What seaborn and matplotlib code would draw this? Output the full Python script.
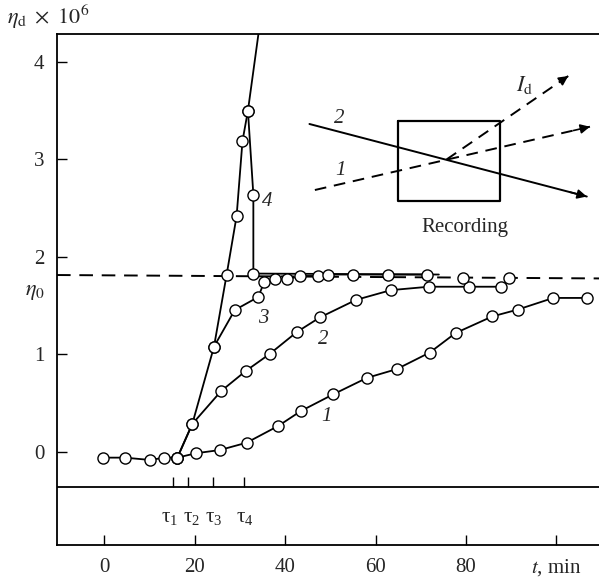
import numpy as np
import pandas as pd
import matplotlib
matplotlib.use("Agg")
import matplotlib.pyplot as plt
import seaborn as sns

# ---------------- data ----------------
c1_t = [-0.3, 4.6, 10.2, 13.3, 16.2, 20.3, 25.6, 31.5, 38.5, 43.5, 50.6, 58.1,
        64.7, 72.0, 77.7, 85.8, 91.4, 99.3, 106.8]
c1_y = [-0.058, -0.058, -0.082, -0.058, -0.058, -0.013, 0.02, 0.095, 0.267, 0.42,
        0.59, 0.76, 0.85, 1.02, 1.22, 1.39, 1.46, 1.58, 1.58]

c2_t = [16.2, 19.5, 25.9, 31.3, 36.6, 42.6, 47.7, 55.7, 63.4, 71.8, 80.7, 87.7]
c2_y = [-0.058, 0.287, 0.626, 0.83, 1.005, 1.23, 1.38, 1.56, 1.66, 1.695, 1.695, 1.695]

c3_t = [24.3, 28.9, 34.1, 35.4, 37.8, 40.4, 43.3, 47.4, 49.6, 55.1, 62.8, 71.3]
c3_y = [1.08, 1.456, 1.59, 1.745, 1.77, 1.77, 1.805, 1.805, 1.82, 1.82, 1.82, 1.82]

c3_extra_t = [79.4, 89.5]
c3_extra_y = [1.78, 1.78]

c4_up_t = [16.2, 19.5, 24.3, 27.1, 29.3, 30.6, 31.8, 34.9]
c4_up_y = [-0.058, 0.287, 1.08, 1.82, 2.42, 3.19, 3.5, 4.55]

c4_down_t = [31.8, 33.0, 33.0]
c4_down_y = [3.5, 2.64, 1.83]

c4_flat_t = [33.0, 74.0]
c4_flat_y = [1.83, 1.82]

eta0_t = [-10.4, 109.4]
eta0_y = [1.815, 1.78]

tau_t = [15.2, 18.5, 24.0, 31.0]
tau_label_t = [14.4, 19.3, 24.3, 31.0]
tau_labels = [r"$\mathregular{\tau_1}$", r"$\mathregular{\tau_2}$",
              r"$\mathregular{\tau_3}$", r"$\mathregular{\tau_4}$"]

xticks = [0, 20, 40, 60, 80, 100]
xtick_labels = ["0", "20", "40", "60", "80", r"$t$, min"]
yticks = [0, 1, 2, 3, 4]

# inset schematic (data coordinates)
box_t = [64.9, 87.5, 87.5, 64.9, 64.9]
box_y = [3.39, 3.39, 2.57, 2.57, 3.39]
beam2_t = [45.4, 106.7]
beam2_y = [3.364, 2.62]
beam1_t = [46.6, 107.4]
beam1_y = [2.687, 3.336]
beamd_t = [75.7, 102.6]
beamd_y = [3.0, 3.856]

# ---------------- style ----------------
sns.set_theme(style="ticks")
plt.rcParams["font.family"] = ["Liberation Serif", "DejaVu Serif"]
plt.rcParams["mathtext.fontset"] = "stix"

fig = plt.figure(figsize=(5.99, 5.80), dpi=100)
ax = fig.add_axes([57 / 599, 35 / 580, 1 - 57 / 599, (545 - 34) / 580])

LW = 1.3
mk = dict(marker="o", markersize=8, markerfacecolor="white",
          markeredgecolor="black", markeredgewidth=1.0)

# eta0 dashed line
ax.plot(eta0_t, eta0_y, color="black", lw=1.4, ls=(0, (7, 4.5)), zorder=1)

def curve(t, y, markers=True):
    df = pd.DataFrame({"t": t, "y": y})
    kw = dict(mk) if markers else {}
    sns.lineplot(data=df, x="t", y="y", ax=ax, estimator=None, sort=False,
                 color="black", lw=LW, zorder=3, **kw)

curve(c1_t, c1_y)
curve(c2_t, c2_y)
curve(c4_flat_t, c4_flat_y, markers=False)
curve(c3_t, c3_y)
curve(c4_up_t, c4_up_y)
curve(c4_down_t, c4_down_y)
ax.plot(c3_extra_t, c3_extra_y, ls="none", zorder=4, **mk)

# baseline for tau marks
ax.axhline(-0.36, color="black", lw=1.3)
ax.vlines(tau_t, -0.36, -0.26, color="black", lw=1.0)
for t, lab in zip(tau_label_t, tau_labels):
    ax.text(t, -0.67, lab, ha="center", va="center", fontsize=15)

# curve labels
lab_kw = dict(fontsize=15, style="italic", ha="center", va="center")
ax.text(36.0, 2.57, "4", **lab_kw)
ax.text(35.2, 1.37, "3", **lab_kw)
ax.text(48.5, 1.15, "2", **lab_kw)
ax.text(49.2, 0.36, "1", **lab_kw)

# inset schematic
ax.plot(box_t, box_y, color="black", lw=1.6)
ax.plot(beam2_t, beam2_y, color="black", lw=1.4)
ax.plot(beam1_t, beam1_y, color="black", lw=1.4, ls=(0, (6, 4)))
ax.plot(beamd_t, beamd_y, color="black", lw=1.4, ls=(0, (6, 4)))
for bt, by in [(beam2_t, beam2_y), (beam1_t, beam1_y), (beamd_t, beamd_y)]:
    ax.annotate("", xy=(bt[1], by[1]),
                xytext=(bt[1] - 0.06 * (bt[1] - bt[0]), by[1] - 0.06 * (by[1] - by[0])),
                arrowprops=dict(arrowstyle="-|>", color="black", lw=1.2,
                                mutation_scale=14, shrinkA=0, shrinkB=0))
ax.text(52.0, 3.42, "2", **lab_kw)
ax.text(52.2, 2.89, "1", **lab_kw)
ax.text(93.0, 3.76, r"$I_{\mathrm{d}}$", ha="center", va="center", fontsize=16)
ax.text(79.8, 2.30, "Recording", ha="center", va="center", fontsize=15)

# axes
ax.set_xlim(-10.4, 109.4)
ax.set_ylim(-0.954, 4.287)
ax.set_xticks(xticks)
ax.set_xticklabels(xtick_labels)
ax.set_yticks(yticks)
ax.set_xlabel("")
ax.set_ylabel("")
ax.tick_params(axis="both", direction="in", length=7, width=1.0,
               labelsize=15, color="black")
ax.tick_params(axis="x", pad=9)
ax.tick_params(axis="y", pad=9)
for s in ["left", "bottom", "top"]:
    ax.spines[s].set_visible(True)
    ax.spines[s].set_linewidth(1.3)
    ax.spines[s].set_color("black")
ax.spines["right"].set_visible(False)

ax.text(-15.2, 1.64, r"$\eta_0$", ha="center", va="center", fontsize=16,
        clip_on=False)
fig.text(7 / 599, 1 - 17 / 580, r"$\eta_{\mathrm{d}}\ \times\ 10^{6}$",
         ha="left", va="center", fontsize=16)

fig.savefig("out.png", dpi=100)
